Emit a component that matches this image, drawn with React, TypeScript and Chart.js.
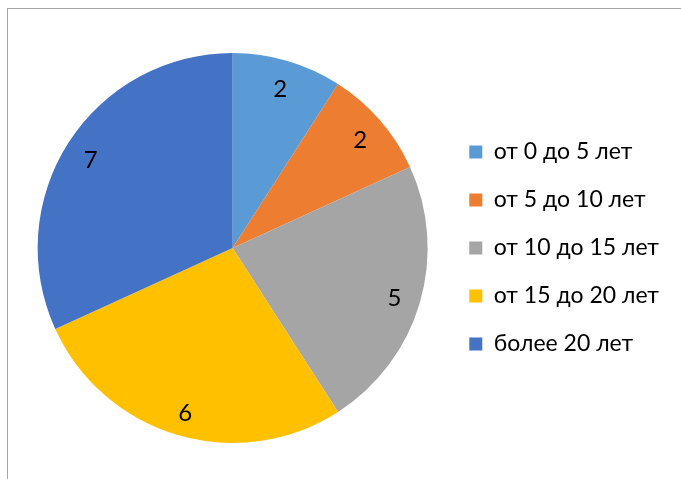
import React, { useEffect, useRef } from "react";
import { Chart, registerables } from "chart.js";

Chart.register(...registerables);

const categories = ["от 0 до 5 лет", "от 5 до 10 лет", "от 10 до 15 лет", "от 15 до 20 лет", "более 20 лет"];
const values = [2, 2, 5, 6, 7];
const colors = ["#5B9BD5", "#ED7D31", "#A5A5A5", "#FFC000", "#4472C4"];

const FONT = "Lato";
const LEGEND_SIZE = 23;
const LABEL_SIZE = 24;

const labelPlugin = {
  id: "sliceLabels",
  afterDatasetsDraw(chart: any) {
    const ctx = chart.ctx;
    const meta = chart.getDatasetMeta(0);
    ctx.save();
    ctx.font = `${LABEL_SIZE}px ${FONT}`;
    ctx.fillStyle = "#000";
    ctx.textAlign = "center";
    ctx.textBaseline = "middle";
    meta.data.forEach((arc: any, i: number) => {
      const p = arc.getProps(["x", "y", "startAngle", "endAngle", "outerRadius"], true);
      const a = (p.startAngle + p.endAngle) / 2;
      const r = p.outerRadius * 0.865;
      ctx.fillText(String(chart.data.datasets[0].data[i]), p.x + Math.cos(a) * r, p.y + Math.sin(a) * r + 3);
    });
    ctx.restore();
  },
};

export default function App() {
  const ref = useRef<HTMLCanvasElement>(null);
  useEffect(() => {
    if (!ref.current) return;
    const chart = new Chart(ref.current, {
      type: "pie",
      data: {
        labels: categories,
        datasets: [{ data: values, backgroundColor: colors, borderWidth: 0 }],
      },
      options: {
        animation: false,
        responsive: false,
        layout: { padding: { left: 21, right: 31, top: 53, bottom: 36 } },
        plugins: {
          tooltip: { enabled: false },
          legend: {
            position: "right",
            align: "center",
            labels: {
              boxWidth: 13,
              boxHeight: 13,
              padding: 25,
              color: "#000",
              font: { family: FONT, size: LEGEND_SIZE },
            },
          },
        },
      },
      plugins: [labelPlugin],
    });
    return () => chart.destroy();
  }, []);
  return (
    <div style={{ position: "absolute", left: 0, top: 0, width: 681, height: 479, overflow: "hidden", background: "#fff" }}>
      <div style={{ position: "absolute", left: 7, top: 8, width: 720, height: 520, borderTop: "1px solid #a6a6a6", borderLeft: "1px solid #a6a6a6" }} />
      <canvas ref={ref} width={700} height={479} style={{ position: "absolute", left: 0, top: 0 }} />
    </div>
  );
}
